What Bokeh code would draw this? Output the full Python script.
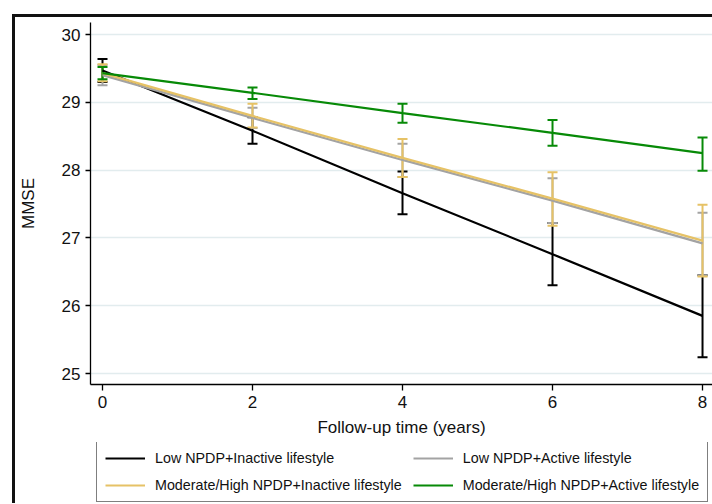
from bokeh.plotting import figure
from bokeh.layouts import column
from bokeh.models import (ColumnDataSource, Whisker, TeeHead, Legend, LegendItem,
                          Range1d, FixedTicker)
from bokeh.embed import file_html
from bokeh.resources import INLINE

# ---- data ----
years = [0, 2, 4, 6, 8]
y_ticks = [25, 26, 27, 28, 29, 30]
x_label = "Follow-up time (years)"
y_label = "MMSE"

series_names = [
    "Low NPDP+Inactive lifestyle",
    "Low NPDP+Active lifestyle",
    "Moderate/High NPDP+Inactive lifestyle",
    "Moderate/High NPDP+Active lifestyle",
]
series_colors = ["#000000", "#a3a3a3", "#e6c266", "#078a07"]

low_inactive_mean = [29.47, 28.58, 27.66, 26.76, 25.85]
low_inactive_lower = [29.30, 28.39, 27.35, 26.30, 25.24]
low_inactive_upper = [29.64, 28.78, 27.98, 27.22, 26.45]

low_active_mean = [29.40, 28.77, 28.15, 27.55, 26.92]
low_active_lower = [29.25, 28.62, 27.90, 27.22, 26.45]
low_active_upper = [29.55, 28.92, 28.39, 27.88, 27.37]

mod_inactive_mean = [29.43, 28.80, 28.18, 27.58, 26.96]
mod_inactive_lower = [29.31, 28.63, 27.90, 27.18, 26.43]
mod_inactive_upper = [29.56, 28.98, 28.46, 27.97, 27.49]

mod_active_mean = [29.43, 29.14, 28.84, 28.55, 28.25]
mod_active_lower = [29.34, 29.05, 28.70, 28.36, 27.99]
mod_active_upper = [29.52, 29.22, 28.98, 28.74, 28.48]

means = [low_inactive_mean, low_active_mean, mod_inactive_mean, mod_active_mean]
lowers = [low_inactive_lower, low_active_lower, mod_inactive_lower, mod_active_lower]
uppers = [low_inactive_upper, low_active_upper, mod_inactive_upper, mod_active_upper]

FONT = "Liberation Sans"
LINE_W = 2.2

# ---- main plot ----
p = figure(width=697, height=425, output_backend="svg", toolbar_location=None,
           x_range=Range1d(-0.16, 8.133), y_range=Range1d(24.838, 30.177),
           min_border_left=75, min_border_right=0, min_border_top=5,
           min_border_bottom=58,
           background_fill_color="white", border_fill_color="white",
           outline_line_color=None)

p.xaxis.ticker = FixedTicker(ticks=years)
p.yaxis.ticker = FixedTicker(ticks=y_ticks)
for ax in (p.xaxis, p.yaxis):
    ax.axis_line_color = "black"
    ax.axis_line_width = 1.3
    ax.major_tick_line_color = "black"
    ax.major_tick_line_width = 1.3
    ax.major_tick_in = 0
    ax.minor_tick_line_color = None
    ax.major_label_text_font = FONT
    ax.major_label_text_font_size = "17px"
    ax.major_label_text_color = "#111111"
    ax.axis_label_text_font = FONT
    ax.axis_label_text_font_size = "17px"
    ax.axis_label_text_font_style = "normal"
    ax.axis_label_text_color = "#111111"
p.xaxis.major_tick_out = 6
p.yaxis.major_tick_out = 5
p.xaxis.major_label_standoff = 5
p.yaxis.major_label_standoff = 5
p.xaxis.axis_label = x_label
p.yaxis.axis_label = y_label
p.xaxis.axis_label_standoff = 7
p.yaxis.axis_label_standoff = 21

p.xgrid.visible = False
p.ygrid.ticker = FixedTicker(ticks=y_ticks)
p.ygrid.grid_line_color = "#e2ecee"
p.ygrid.grid_line_width = 1.5

for color, m, lo, up in zip(series_colors, means, lowers, uppers):
    p.line(years, m, line_color=color, line_width=LINE_W)
    src = ColumnDataSource(dict(x=years, lower=lo, upper=up))
    w = Whisker(base="x", lower="lower", upper="upper", source=src,
                line_color=color, line_width=2,
                upper_head=TeeHead(size=10, line_color=color, line_width=2),
                lower_head=TeeHead(size=10, line_color=color, line_width=2))
    p.add_layout(w)

# ---- legend strip (separate small figure below; its lines lie outside its view) ----
lg = figure(width=697, height=61, output_backend="svg", toolbar_location=None,
            x_range=Range1d(-100, -99), y_range=Range1d(-100, -99),
            x_axis_location=None, y_axis_location=None,
            min_border_left=0, min_border_right=0, min_border_top=0,
            min_border_bottom=0, outline_line_color=None,
            background_fill_color="white", border_fill_color="white")
lg.grid.visible = False
legend_renderers = [lg.line(years, m, line_color=c, line_width=LINE_W)
                    for c, m in zip(series_colors, means)]
legend = Legend(items=[LegendItem(label=n, renderers=[r])
                       for n, r in zip(series_names, legend_renderers)],
                location=(6, 1), orientation="horizontal", ncols=2,
                border_line_color="black", border_line_width=1.5,
                background_fill_color="white", background_fill_alpha=1,
                label_text_font=FONT, label_text_font_size="14.3px",
                label_text_color="#111111",
                glyph_width=40, glyph_height=16, label_height=16,
                label_standoff=10, spacing=11, padding=8, margin=0)
lg.add_layout(legend)

layout = column(p, lg, spacing=0)
layout.styles = {"margin-left": "12px", "margin-top": "14px",
                 "border-left": "3px solid #111111", "border-top": "3px solid #111111"}

open("out.html", "w").write(file_html(layout, INLINE))
